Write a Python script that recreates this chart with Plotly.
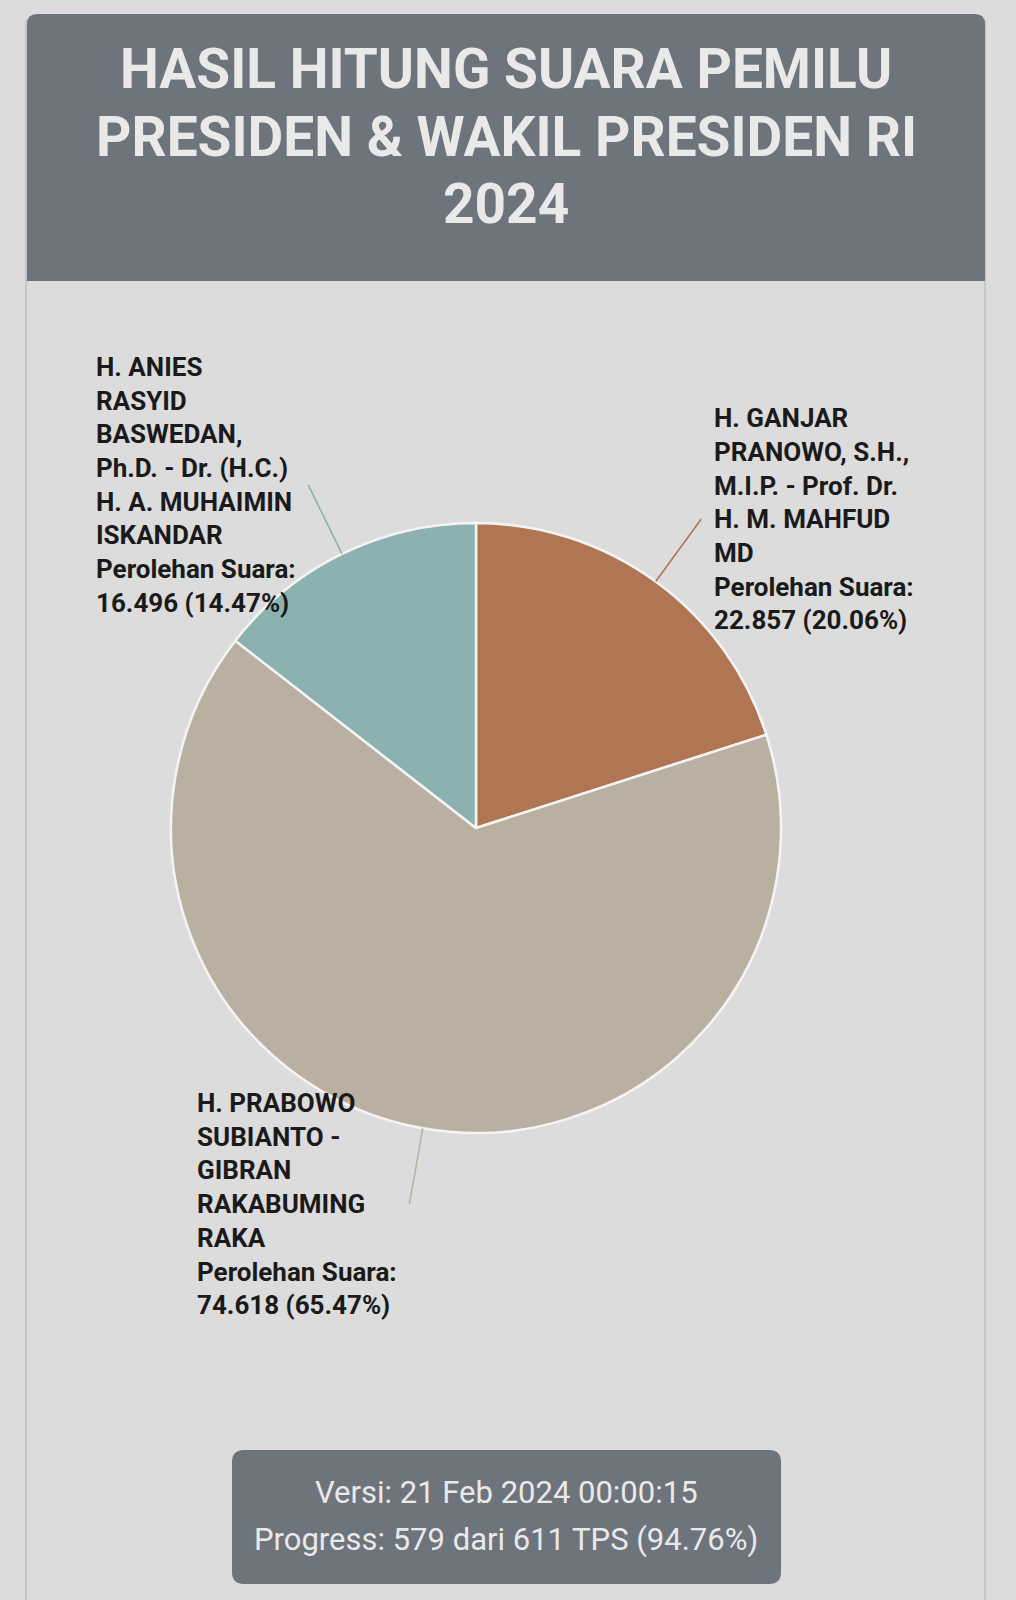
import math
import plotly.graph_objects as go

# ---------------- data ----------------
candidates = ["Ganjar - Mahfud", "Prabowo - Gibran", "Anies - Muhaimin"]
votes = [22857, 74618, 16496]
percents = [20.06, 65.47, 14.47]
name_lines = [
    ["H. GANJAR", "PRANOWO, S.H.,", "M.I.P. - Prof. Dr.", "H. M. MAHFUD", "MD"],
    ["H. PRABOWO", "SUBIANTO -", "GIBRAN", "RAKABUMING", "RAKA"],
    ["H. ANIES", "RASYID", "BASWEDAN,", "Ph.D. - Dr. (H.C.)", "H. A. MUHAIMIN", "ISKANDAR"],
]
title_lines = ["HASIL HITUNG SUARA PEMILU", "PRESIDEN & WAKIL PRESIDEN RI", "2024"]
footer_lines = ["Versi: 21 Feb 2024 00:00:15", "Progress: 579 dari 611 TPS (94.76%)"]
vote_label = "Perolehan Suara:"

# ---------------- style ----------------
W, H = 1016, 1600
colors = ["#b07653", "#b9b0a2", "#8bb2b0"]
BG = "#dcdcdc"
HEADER = "#6e747b"
LIGHT_TXT = "#e9e9e9"
FONT = "Roboto"

CX, CY, R = 476, 828, 305          # pie centre / radius in pixels
LEADER = 77                          # leader line length
LINE_H = 33.7                        # label line spacing
label_side = ["right", "left", "left"]
label_left_x = [None, 195, 94]       # left edge of left-side label blocks
label_gap = 11


def px(x):
    return x / W


def py(y):
    return 1 - y / H


fig = go.Figure()

fig.add_trace(go.Pie(
    labels=candidates,
    values=votes,
    sort=False,
    direction="clockwise",
    rotation=0,
    marker=dict(colors=colors, line=dict(color="#f4f4f4", width=2.5)),
    textinfo="none",
    hoverinfo="label+value+percent",
    showlegend=False,
    domain=dict(x=[px(CX - R), px(CX + R)], y=[py(CY + R), py(CY - R)]),
))

shapes = []
annotations = []

# card side borders
for xx in (26, 985):
    shapes.append(dict(type="line", xref="paper", yref="paper",
                       x0=px(xx), x1=px(xx), y0=py(20), y1=py(H),
                       line=dict(color="#c6c6c6", width=2), layer="below"))

# header with rounded top corners
x0, x1, y0, y1, rr = 27, 985, 14, 281, 10
path = (f"M {px(x0)},{py(y1)} L {px(x0)},{py(y0 + rr)} "
        f"Q {px(x0)},{py(y0)} {px(x0 + rr)},{py(y0)} "
        f"L {px(x1 - rr)},{py(y0)} Q {px(x1)},{py(y0)} {px(x1)},{py(y0 + rr)} "
        f"L {px(x1)},{py(y1)} Z")
shapes.append(dict(type="path", xref="paper", yref="paper", path=path,
                   fillcolor=HEADER, line=dict(width=0), layer="below"))

# footer rounded box
fx0, fx1, fy0, fy1, fr = 232, 781, 1450, 1584, 12
fpath = (f"M {px(fx0 + fr)},{py(fy0)} L {px(fx1 - fr)},{py(fy0)} "
         f"Q {px(fx1)},{py(fy0)} {px(fx1)},{py(fy0 + fr)} "
         f"L {px(fx1)},{py(fy1 - fr)} Q {px(fx1)},{py(fy1)} {px(fx1 - fr)},{py(fy1)} "
         f"L {px(fx0 + fr)},{py(fy1)} Q {px(fx0)},{py(fy1)} {px(fx0)},{py(fy1 - fr)} "
         f"L {px(fx0)},{py(fy0 + fr)} Q {px(fx0)},{py(fy0)} {px(fx0 + fr)},{py(fy0)} Z")
shapes.append(dict(type="path", xref="paper", yref="paper", path=fpath,
                   fillcolor=HEADER, line=dict(width=0), layer="below"))

# title
for i, t in enumerate(title_lines):
    annotations.append(dict(xref="paper", yref="paper", x=px(506), y=py(69 + i * 67.5),
                            text=t, showarrow=False, xanchor="center", yanchor="middle",
                            font=dict(family=FONT, size=55, color=LIGHT_TXT, weight=700)))

# footer text
for i, t in enumerate(footer_lines):
    annotations.append(dict(xref="paper", yref="paper", x=px(506), y=py(1492 + i * 47),
                            text=t, showarrow=False, xanchor="center", yanchor="middle",
                            font=dict(family=FONT, size=31, color=LIGHT_TXT)))

# leader lines + labels
total = sum(votes)
cum = 0
for i, v in enumerate(votes):
    mid = (cum + v / 2) / total * 2 * math.pi
    cum += v
    sx, sy = CX + R * math.sin(mid), CY - R * math.cos(mid)
    ex, ey = CX + (R + LEADER) * math.sin(mid), CY - (R + LEADER) * math.cos(mid)
    shapes.append(dict(type="line", xref="paper", yref="paper",
                       x0=px(sx), y0=py(sy), x1=px(ex), y1=py(ey),
                       line=dict(color=colors[i], width=1.6)))
    vtxt = f"{v:,}".replace(",", ".") + f" ({percents[i]:.2f}%)"
    lines = name_lines[i] + [vote_label, vtxt]
    n = len(lines)
    lx = ex + label_gap if label_side[i] == "right" else label_left_x[i]
    for k, t in enumerate(lines):
        yy = ey + (k - (n - 1) / 2) * LINE_H
        annotations.append(dict(xref="paper", yref="paper", x=px(lx), y=py(yy),
                                text=t, showarrow=False, xanchor="left", yanchor="middle",
                                font=dict(family=FONT, size=26, color="#1a1a1a", weight=700)))

fig.update_layout(
    width=W, height=H,
    margin=dict(l=0, r=0, t=0, b=0),
    paper_bgcolor=BG, plot_bgcolor=BG,
    shapes=shapes, annotations=annotations,
    showlegend=False,
)

fig.write_html("out.html")
